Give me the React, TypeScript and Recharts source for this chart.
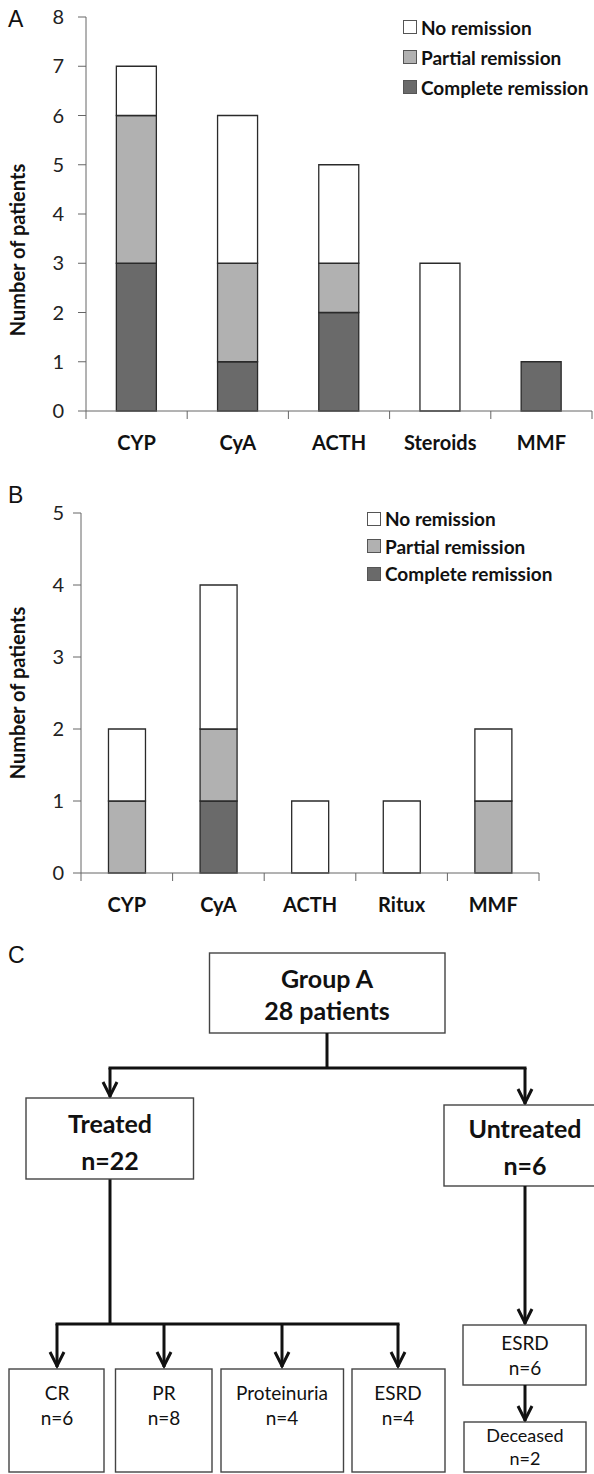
import React from "react";
import { BarChart, Bar, XAxis, YAxis, Legend, Label } from "recharts";

// Panel A: Group A, treatments and their outcome
const drugsA = ["CYP", "CyA", "ACTH", "Steroids", "MMF"];
const completeA = [3, 1, 2, 0, 1];
const partialA = [3, 2, 1, 0, 0];
const noneA = [1, 3, 2, 3, 0];
const ticksA = [0, 1, 2, 3, 4, 5, 6, 7, 8];

// Panel B
const drugsB = ["CYP", "CyA", "ACTH", "Ritux", "MMF"];
const completeB = [0, 1, 0, 0, 0];
const partialB = [1, 1, 0, 0, 1];
const noneB = [1, 2, 1, 1, 1];
const ticksB = [0, 1, 2, 3, 4, 5];

const seriesNames = ["Complete remission", "Partial remission", "No remission"];
const seriesKeys = ["complete", "partial", "none"];
const seriesColors = ["#6a6a6a", "#b1b1b1", "#ffffff"];

// Panel C: flowchart texts
const rootText = ["Group A", "28 patients"];
const branchText = [
  ["Treated", "n=22"],
  ["Untreated", "n=6"],
];
const outcomeText = [
  ["CR", "n=6"],
  ["PR", "n=8"],
  ["Proteinuria", "n=4"],
  ["ESRD", "n=4"],
];
const untreatedText = [
  ["ESRD", "n=6"],
  ["Deceased", "n=2"],
];

const FONT = "Lato, 'Open Sans', sans-serif";

function buildRows(cats: string[], c: number[], p: number[], n: number[]) {
  return cats.map((name, i) => ({ name, complete: c[i], partial: p[i], none: n[i] }));
}

const dataA = buildRows(drugsA, completeA, partialA, noneA);
const dataB = buildRows(drugsB, completeB, partialB, noneB);

function makeTick(axisBand: number, count: number) {
  return (props: any) => {
    const { x, y, payload, index } = props;
    return (
      <g>
        <line x1={x - axisBand / 2} x2={x - axisBand / 2} y1={y} y2={y + 8} stroke="#666" />
        {index === count - 1 && (
          <line x1={x + axisBand / 2} x2={x + axisBand / 2} y1={y} y2={y + 8} stroke="#666" />
        )}
        <text
          x={x}
          y={y + 39}
          textAnchor="middle"
          fontFamily={FONT}
          fontWeight={700}
          fontSize={20}
          fill="#111"
        >
          {payload.value}
        </text>
      </g>
    );
  };
}

function legendContent(rowH: number) {
  return () => (
    <div style={{ fontFamily: FONT, fontWeight: 700, fontSize: 19, color: "#111" }}>
      {[2, 1, 0].map((i) => (
        <div key={i} style={{ display: "flex", alignItems: "center", height: rowH, whiteSpace: "nowrap" }}>
          <span
            style={{
              display: "inline-block",
              width: 14,
              height: 14,
              boxSizing: "border-box",
              border: "1px solid #555",
              background: seriesColors[i],
              marginRight: 4,
            }}
          />
          <span>{seriesNames[i]}</span>
        </div>
      ))}
    </div>
  );
}

interface PanelProps {
  top: number;
  height: number;
  data: any[];
  ticks: number[];
  yAxisWidth: number;
  marginTop: number;
  marginRight: number;
  xAxisHeight: number;
  tickMargin: number;
  labelY: number;
  legendTop: number;
  legendLeft: number;
  legendRow: number;
}

function Panel(p: PanelProps) {
  const plotWidth = 594 - p.yAxisWidth - p.marginRight;
  const band = plotWidth / p.data.length;
  return (
    <div style={{ position: "absolute", left: 0, top: p.top }}>
      <BarChart
        width={594}
        height={p.height}
        data={p.data}
        margin={{ top: p.marginTop, right: p.marginRight, left: 0, bottom: 0 }}
        barCategoryGap="30%"
      >
        <XAxis
          dataKey="name"
          height={p.xAxisHeight}
          interval={0}
          tickLine={false}
          tickSize={0}
          tickMargin={0}
          axisLine={{ stroke: "#666" }}
          tick={makeTick(band, p.data.length)}
        />
        <YAxis
          width={p.yAxisWidth}
          domain={[0, p.ticks[p.ticks.length - 1]]}
          ticks={p.ticks}
          interval={0}
          tickSize={8}
          tickMargin={p.tickMargin}
          axisLine={{ stroke: "#666" }}
          tickLine={{ stroke: "#666" }}
          tick={{ fontSize: 20, fill: "#222", fontFamily: FONT }}
        >
          <Label
            content={() => (
              <text
                x={17}
                y={p.labelY}
                transform={`rotate(-90, 17, ${p.labelY})`}
                textAnchor="middle"
                dominantBaseline="central"
                fontFamily={FONT}
                fontWeight={700}
                fontSize={20}
                fill="#111"
              >
                Number of patients
              </text>
            )}
          />
        </YAxis>
        <Legend
          layout="vertical"
          align="center"
          verticalAlign="middle"
          content={legendContent(p.legendRow)}
          wrapperStyle={{ top: p.legendTop, left: p.legendLeft, width: "auto", height: "auto" }}
        />
        {seriesKeys.map((k, i) => (
          <Bar
            key={k}
            dataKey={k}
            name={seriesNames[i]}
            stackId="s"
            fill={seriesColors[i]}
            stroke="#2a2a2a"
            strokeWidth={1.3}
            isAnimationActive={false}
          />
        ))}
      </BarChart>
    </div>
  );
}

function Box({ x, y, w, h }: { x: number; y: number; w: number; h: number }) {
  return <rect x={x} y={y} width={w} height={h} fill="#fff" stroke="#444" strokeWidth={1.4} />;
}

function Arrow({ x, y1, y2 }: { x: number; y1: number; y2: number }) {
  return (
    <g stroke="#111" strokeWidth={3} fill="none">
      <line x1={x} x2={x} y1={y1} y2={y2 - 1} />
      <polyline points={`${x - 7},${y2 - 16} ${x},${y2 - 2} ${x + 7},${y2 - 16}`} />
    </g>
  );
}

function TwoLines({
  x,
  y1,
  y2,
  lines,
  size,
  bold,
}: {
  x: number;
  y1: number;
  y2: number;
  lines: string[];
  size: number;
  bold?: boolean;
}) {
  const common = {
    x,
    textAnchor: "middle" as const,
    dominantBaseline: "central" as const,
    fontFamily: FONT,
    fontSize: size,
    fontWeight: bold ? 700 : 400,
    fill: "#111",
  };
  return (
    <g>
      <text {...common} y={y1}>
        {lines[0]}
      </text>
      <text {...common} y={y2}>
        {lines[1]}
      </text>
    </g>
  );
}

// flowchart geometry
const outcomeX = [57, 164, 282, 398];
const outcomeBoxes = [
  [9, 95],
  [115.5, 96.5],
  [221, 122.5],
  [352, 93],
];

function Flowchart() {
  return (
    <svg width={594} height={1474} style={{ position: "absolute", left: 0, top: 0 }}>
      <g fontFamily="'Liberation Sans', Arial, sans-serif" fontSize={23} fill="#111">
        <text x={8} y={27}>A</text>
        <text x={8} y={503}>B</text>
        <text x={8} y={963}>C</text>
      </g>
      <Box x={209.5} y={953} w={235.5} h={80} />
      <TwoLines x={327} y1={978} y2={1010} lines={rootText} size={25} bold />
      <g stroke="#111" strokeWidth={3} fill="none">
        <line x1={327} x2={327} y1={1033} y2={1068} />
        <line x1={108.5} x2={526.5} y1={1068} y2={1068} />
        <line x1={110} x2={110} y1={1179} y2={1324} />
        <line x1={55.5} x2={399.5} y1={1324} y2={1324} />
      </g>
      <Arrow x={110} y1={1068} y2={1098} />
      <Arrow x={525} y1={1068} y2={1105} />
      <Box x={26} y={1098} w={167.5} h={81} />
      <TwoLines x={110} y1={1123} y2={1160} lines={branchText[0]} size={25} bold />
      <Box x={444} y={1105} w={152} h={81} />
      <TwoLines x={525} y1={1128} y2={1165} lines={branchText[1]} size={25} bold />
      {outcomeText.map((t, i) => (
        <g key={i}>
          <Arrow x={outcomeX[i]} y1={1324} y2={1368} />
          <Box x={outcomeBoxes[i][0]} y={1369} w={outcomeBoxes[i][1]} h={103} />
          <TwoLines x={outcomeX[i]} y1={1392} y2={1417} lines={t} size={19} />
        </g>
      ))}
      <Arrow x={525} y1={1186} y2={1325} />
      <Box x={463} y={1325} w={123} h={60} />
      <TwoLines x={525} y1={1342} y2={1367} lines={untreatedText[0]} size={19} />
      <Arrow x={525} y1={1385} y2={1422} />
      <Box x={464} y={1422} w={122} h={50} />
      <TwoLines x={525} y1={1435} y2={1458} lines={untreatedText[1]} size={18} />
    </svg>
  );
}

export default function App() {
  return (
    <div style={{ position: "absolute", left: 0, top: 0, width: 594, height: 1474, background: "#fff", overflow: "hidden" }}>
      <Flowchart />
      <Panel
        top={0}
        height={460}
        data={dataA}
        ticks={ticksA}
        yAxisWidth={86}
        marginTop={17}
        marginRight={2}
        xAxisHeight={49}
        tickMargin={14}
        labelY={250}
        legendTop={12}
        legendLeft={403}
        legendRow={30}
      />
      <Panel
        top={470}
        height={453}
        data={dataB}
        ticks={ticksB}
        yAxisWidth={81}
        marginTop={43}
        marginRight={55}
        xAxisHeight={50}
        tickMargin={9}
        labelY={223}
        legendTop={35}
        legendLeft={367}
        legendRow={27.5}
      />
    </div>
  );
}
